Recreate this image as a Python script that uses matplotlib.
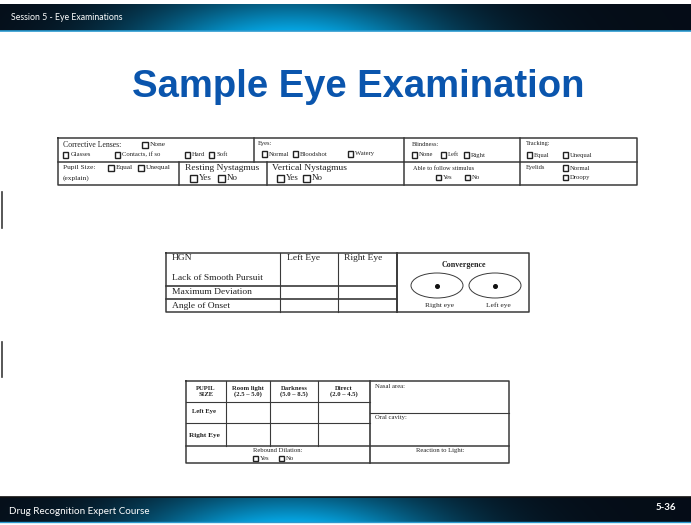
import numpy as np
import matplotlib.pyplot as plt
from matplotlib.patches import Ellipse, Rectangle

# slide texts
header_text = "Session 5 - Eye Examinations"
footer_text = "Drug Recognition Expert Course"
page_no = "5-36"
title = "Sample Eye Examination"

# form 1 labels
lens_title = "Corrective Lenses:"
lens_opts = ["None", "Glasses", "Contacts, if so", "Hard", "Soft"]
eyes_title = "Eyes:"
eyes_opts = ["Normal", "Bloodshot", "Watery"]
blind_title = "Blindness:"
blind_opts = ["None", "Left", "Right"]
track_title = "Tracking:"
track_opts = ["Equal", "Unequal"]
pupil_title = "Pupil Size:"
pupil_opts = ["Equal", "Unequal"]
pupil_note = "(explain)"
resting_title = "Resting Nystagmus"
vertical_title = "Vertical Nystagmus"
follow_title = "Able to follow stimulus"
yes_no = ["Yes", "No"]
eyelid_title = "Eyelids"
eyelid_opts = ["Normal", "Droopy"]

# form 2 labels
hgn_rows = ["HGN", "Lack of Smooth Pursuit", "Maximum Deviation", "Angle of Onset"]
hgn_cols = ["Left Eye", "Right Eye"]
conv_title = "Convergence"
conv_eyes = ["Right eye", "Left eye"]

# form 3 labels
pupil_cols = ["PUPIL\nSIZE", "Room light\n(2.5 \u2013 5.0)", "Darkness\n(5.0 \u2013 8.5)", "Direct\n(2.0 \u2013 4.5)"]
pupil_rows = ["Left Eye", "Right Eye"]
rebound_title = "Rebound Dilation:"
side_labels = ["Nasal area:", "Oral cavity:", "Reaction to Light:"]

SERIF = ['Liberation Serif', 'DejaVu Sans']
LINE = '#3a3a3a'

fig = plt.figure(figsize=(6.91, 5.25), dpi=100)
ax = fig.add_axes([0, 0, 1, 1])
ax.set_xlim(0, 691)
ax.set_ylim(525, 0)
ax.axis('off')


def band(y0, y1):
    xs = np.linspace(0, 1, 400)
    ys = np.linspace(0, 1, 30)
    X, Y = np.meshgrid(xs, ys)
    glow = np.exp(-((X - 0.42) / 0.22) ** 2) * (0.55 + 0.45 * Y)
    img = np.zeros((30, 400, 3))
    img[..., 0] = 0.02
    img[..., 1] = 0.05 + 0.60 * glow
    img[..., 2] = 0.09 + 0.80 * glow
    ax.imshow(img, extent=(0, 691, y1, y0), aspect='auto', zorder=0)


def rect(x0, y0, x1, y1, lw=1.1):
    ax.plot([x0, x1, x1, x0, x0], [y0, y0, y1, y1, y0], color=LINE, lw=lw)


def hline(y, x0, x1, lw=0.8):
    ax.plot([x0, x1], [y, y], color=LINE, lw=lw)


def vline(x, y0, y1, lw=0.8):
    ax.plot([x, x], [y0, y1], color=LINE, lw=lw)


def txt(x, y, s, size=4.6, ha='left', weight='normal'):
    ax.text(x, y, s, fontsize=size, ha=ha, va='center', family=SERIF,
            weight=weight, color='#222222', linespacing=1.25)


def check(x, y, label, size=4.6, gap=2.0):
    side = size * 1.1
    ax.add_patch(Rectangle((x, y - side / 2), side, side, fill=False,
                           edgecolor='#222222', lw=1.0))
    txt(x + side + gap, y, label, size=size)


# header and footer
band(4, 31)
ax.plot([0, 691], [31, 31], color='#2a9ad0', lw=1.2)
ax.text(11, 18, header_text, fontsize=6.3, color='white', family='Lato', va='center')
band(497, 522)
ax.plot([0, 691], [497, 497], color='#101010', lw=1.2)
ax.plot([0, 691], [522, 522], color='#2a9ad0', lw=1.0)
ax.text(9, 511, footer_text, fontsize=7.1, color='white', family='Lato', va='center')
ax.text(676, 507, page_no, fontsize=7, color='white', family='Lato', va='center',
        ha='right', weight='bold')

ax.text(358, 87, title, fontsize=27.5, color='#0a55ad', family='Liberation Sans',
        weight='bold', ha='center', va='center')

# small marks on the left edge
vline(2, 192, 228, lw=1.2)
vline(2, 342, 377, lw=1.2)

# form 1
rect(58, 138, 637, 185)
hline(162, 58, 637, lw=1.1)
for x in [254, 404, 520]:
    vline(x, 138, 162, lw=1.1)
for x in [179, 267, 404, 520]:
    vline(x, 162, 185, lw=1.1)

txt(63, 145, lens_title, size=5.6)
check(142, 145, lens_opts[0], size=5.3)
for x, lab in zip([63, 115, 185, 209], lens_opts[1:]):
    check(x, 155, lab, size=4.8)

txt(258, 144, eyes_title)
for x, lab in zip([262, 293, 348], eyes_opts):
    check(x, 154, lab, size=4.8)

txt(412, 144, blind_title)
for x, lab in zip([412, 441, 464], blind_opts):
    check(x, 155, lab, size=4.8)

txt(526, 144, track_title)
for x, lab in zip([527, 563], track_opts):
    check(x, 155, lab, size=4.8)

txt(63, 168, pupil_title, size=5.3)
for x, lab in zip([108, 138], pupil_opts):
    check(x, 168, lab, size=5.3)
txt(63, 178, pupil_note, size=5.3)

txt(185, 168, resting_title, size=6.8)
for x, lab in zip([190, 218], yes_no):
    check(x, 178.5, lab, size=6.4, gap=1.5)
txt(272, 168, vertical_title, size=6.8)
for x, lab in zip([277, 303], yes_no):
    check(x, 178.5, lab, size=6.4, gap=1.5)

txt(413, 168, follow_title)
for x, lab in zip([436, 465], yes_no):
    check(x, 177.5, lab, size=4.8)

txt(526, 168, eyelid_title)
for y, lab in zip([168, 177.5], eyelid_opts):
    check(563, y, lab, size=4.8)

# form 2 - HGN
rect(166, 253, 529, 312)
vline(280, 253, 312)
vline(338, 253, 312)
vline(397, 253, 312, lw=1.4)
hline(286, 166, 397, lw=1.2)
hline(299, 166, 397, lw=1.2)
for y, lab in zip([258.5, 278, 292.5, 305.5], hgn_rows):
    txt(172, y, lab, size=6.8)
for x, lab in zip([287, 344], hgn_cols):
    txt(x, 258.5, lab, size=6.8)
txt(464, 265, conv_title, size=5.8, ha='center', weight='bold')
for cx, lab in zip([437, 495], conv_eyes):
    ax.add_patch(Ellipse((cx, 285.5), 52, 25, fill=False, edgecolor=LINE, lw=0.7))
    ax.plot(cx, 285.5, 'o', color='#111111', ms=2.6)
    txt(cx + 3, 305, lab, size=5.4, ha='center')

# form 3 - pupil size
rect(186, 381, 509, 463)
for x in [226, 270, 318]:
    vline(x, 381, 446)
vline(370, 381, 463, lw=1.2)
hline(402, 186, 370)
hline(423, 186, 370)
hline(446, 186, 509, lw=1.1)
hline(413, 370, 509)
for x, lab in zip([206, 248, 294, 344], pupil_cols):
    txt(x, 391.5, lab, size=4.8, ha='center', weight='bold')
txt(204, 412, pupil_rows[0], size=4.8, ha='center', weight='bold')
txt(204, 435, pupil_rows[1], size=5.2, ha='center', weight='bold')
txt(278, 450.5, rebound_title, size=4.8, ha='center')
for x, lab in zip([253, 279], yes_no):
    check(x, 458.5, lab, size=4.8)
txt(375, 386, side_labels[0], size=4.8)
txt(375, 418, side_labels[1], size=4.8)
txt(440, 450.5, side_labels[2], size=4.8, ha='center')

fig.savefig('out.png', dpi=100)
